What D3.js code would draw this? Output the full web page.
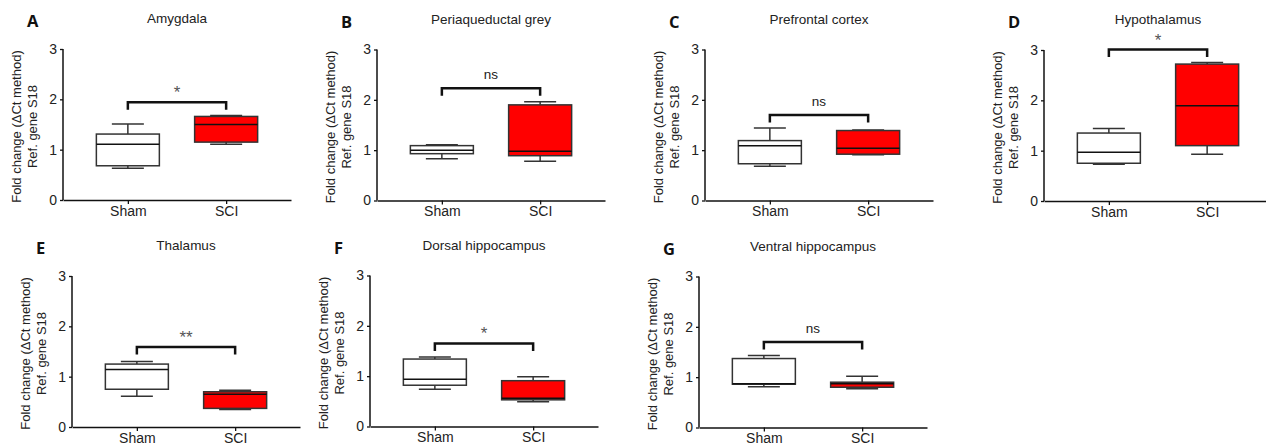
<!DOCTYPE html>
<html>
<head>
<meta charset="utf-8">
<script src="https://cdn.jsdelivr.net/npm/d3@7"></script>
<style>
  body { margin: 0; background: #fff; }
  svg { display: block; font-family: "Liberation Sans", Arial, sans-serif; }
</style>
</head>
<body>
<div id="chart"></div>
<script>
// panel letters and brain regions
var letters = ["A", "B", "C", "D", "E", "F", "G"];
var regions = ["Amygdala", "Periaqueductal grey", "Prefrontal cortex", "Hypothalamus",
               "Thalamus", "Dorsal hippocampus", "Ventral hippocampus"];
var groups = ["Sham", "SCI"];

// box summaries per region: [min, q1, median, q3, max]
var shamStats = [
  [0.63, 0.68, 1.11, 1.31, 1.51],
  [0.83, 0.93, 1.00, 1.09, 1.11],
  [0.68, 0.73, 1.09, 1.19, 1.44],
  [0.73, 0.75, 0.97, 1.35, 1.44],
  [0.61, 0.75, 1.14, 1.25, 1.30],
  [0.74, 0.82, 0.94, 1.34, 1.38],
  [0.81, 0.86, 0.87, 1.37, 1.43]
];
var sciStats = [
  [1.11, 1.15, 1.50, 1.66, 1.68],
  [0.78, 0.89, 0.98, 1.90, 1.96],
  [0.91, 0.92, 1.04, 1.39, 1.40],
  [0.93, 1.10, 1.89, 2.72, 2.75],
  [0.35, 0.37, 0.65, 0.70, 0.73],
  [0.49, 0.53, 0.56, 0.91, 0.99],
  [0.77, 0.80, 0.87, 0.90, 1.02]
];

// significance brackets
var sigLabels = ["*", "ns", "ns", "*", "**", "*", "ns"];
var bracketTop = [1.94, 2.23, 1.70, 3.01, 1.59, 1.65, 1.70];

var yTicks = [0, 1, 2, 3];

// where each panel's y axis sits (left x, top y)
var origins = [[63, 49], [377, 49.5], [705, 49.5], [1044, 50],
               [72, 276], [370, 275.5], [699, 276.5]];

var W = 1266, H = 445;
var plotW = 228, plotH = 151;
var boxW = 63, capW = 32;

var svg = d3.select("#chart").append("svg")
  .attr("width", W)
  .attr("height", H);

var x = d3.scalePoint().domain(groups).range([0, plotW]).padding(0.66).align(0.5);
var y = d3.scaleLinear().domain([0, 3]).range([plotH, 0]);

letters.forEach(function(letter, i) {
  var g = svg.append("g")
    .attr("transform", "translate(" + origins[i][0] + "," + origins[i][1] + ")");

  // panel letter
  g.append("text")
    .attr("x", -36)
    .attr("y", -22)
    .attr("font-family", "'Open Sans', sans-serif")
    .attr("font-weight", "bold")
    .attr("font-size", "16.5px")
    .attr("fill", "#111")
    .text(letter);

  // title
  g.append("text")
    .attr("x", plotW / 2)
    .attr("y", -26)
    .attr("text-anchor", "middle")
    .attr("font-size", "13.5px")
    .attr("fill", "#222")
    .text(regions[i]);

  // y axis label (two lines)
  var yl = g.append("text")
    .attr("transform", "translate(-42," + (plotH / 2 + 2) + ") rotate(-90)")
    .attr("text-anchor", "middle")
    .attr("font-size", "13px")
    .attr("fill", "#222");
  yl.append("tspan").attr("x", 0).attr("y", 0).text("Fold change (\u0394Ct method)");
  yl.append("tspan").attr("x", 0).attr("y", 16).text("Ref. gene S18");

  // axes
  var yAxis = g.append("g")
    .call(d3.axisLeft(y).tickValues(yTicks).tickFormat(d3.format("d")).tickSize(3).tickPadding(3));
  var xAxis = g.append("g")
    .attr("transform", "translate(0," + plotH + ")")
    .call(d3.axisBottom(x).tickSize(4).tickPadding(2).tickSizeOuter(0));
  [yAxis, xAxis].forEach(function(ax) {
    ax.select(".domain").attr("stroke", "#111").attr("stroke-width", 1.5);
    ax.selectAll(".tick line").attr("stroke", "#111").attr("stroke-width", 1.3);
    ax.selectAll(".tick text").attr("font-size", "14px").attr("fill", "#222")
      .attr("font-family", "'Liberation Sans', Arial, sans-serif");
  });
  yAxis.select(".domain").attr("d", "M0," + y(3) + "V" + y(0));

  // boxes
  var stats = [shamStats[i], sciStats[i]];
  var fills = ["#ffffff", "#ff0000"];
  stats.forEach(function(s, k) {
    var cx = x(groups[k]);
    var bg = g.append("g").attr("stroke", "#333").attr("stroke-width", 1.5);
    // whiskers
    bg.append("line").attr("x1", cx).attr("x2", cx).attr("y1", y(s[0])).attr("y2", y(s[1]));
    bg.append("line").attr("x1", cx).attr("x2", cx).attr("y1", y(s[3])).attr("y2", y(s[4]));
    bg.append("line").attr("x1", cx - capW / 2).attr("x2", cx + capW / 2).attr("y1", y(s[0])).attr("y2", y(s[0]));
    bg.append("line").attr("x1", cx - capW / 2).attr("x2", cx + capW / 2).attr("y1", y(s[4])).attr("y2", y(s[4]));
    // box
    bg.append("rect")
      .attr("x", cx - boxW / 2)
      .attr("y", y(s[3]))
      .attr("width", boxW)
      .attr("height", y(s[1]) - y(s[3]))
      .attr("fill", fills[k]);
    // median
    bg.append("line").attr("x1", cx - boxW / 2).attr("x2", cx + boxW / 2)
      .attr("y1", y(s[2])).attr("y2", y(s[2])).attr("stroke", "#111");
  });

  // significance bracket
  var by = y(bracketTop[i]);
  var x0 = x(groups[0]), x1 = x(groups[1]);
  g.append("path")
    .attr("d", "M" + x0 + "," + (by + 7.5) + "V" + by + "H" + x1 + "V" + (by + 7.5))
    .attr("fill", "none")
    .attr("stroke", "#111")
    .attr("stroke-width", 2.5);

  var isStar = sigLabels[i] !== "ns";
  g.append("text")
    .attr("x", (x0 + x1) / 2)
    .attr("y", isStar ? by - 4 : by - 9)
    .attr("text-anchor", "middle")
    .attr("font-size", isStar ? "17px" : "13.5px")
    .attr("fill", isStar ? "#555" : "#222")
    .text(sigLabels[i]);
});
</script>
</body>
</html>
